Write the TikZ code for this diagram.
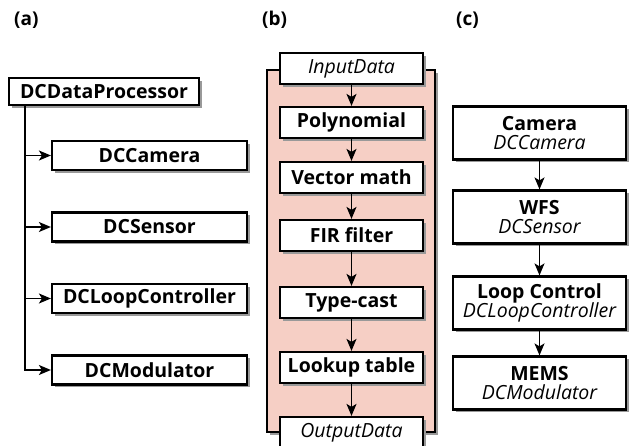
\documentclass[tikz,border=0pt]{standalone}
\usepackage{fontspec}
\setmainfont{Open Sans}
\usepackage{xcolor}
\usepackage{tikz}
\usetikzlibrary{shapes.geometric, arrows.meta, positioning, calc, shadows}
\definecolor{pipepink}{RGB}{246,207,197}
\tikzstyle{block} = [rectangle, draw=black, line width=2.2pt, fill=white, inner sep=0pt, text centered, font=\bfseries\fontsize{19.5}{21}\selectfont, drop shadow={shadow xshift=3pt, shadow yshift=-3pt, fill=black!40, opacity=1}]
\tikzstyle{member} = [block, minimum width=195pt, minimum height=29pt]
\tikzstyle{stage} = [block, minimum width=143pt, minimum height=31pt]
\tikzstyle{device} = [block, minimum width=173pt, minimum height=53pt, align=center]
\tikzstyle{pipe} = [rectangle, draw=black, line width=2.2pt, fill=pipepink, minimum width=168pt, minimum height=362pt, drop shadow={shadow xshift=3pt, shadow yshift=-3pt, fill=black!40, opacity=1}]
\tikzstyle{tag} = [anchor=west, inner sep=0pt, font=\bfseries\fontsize{19}{21}\selectfont]
\tikzstyle{arrow} = [line width=1.4pt, -{Stealth[length=12pt, width=10pt, inset=3pt]}]

\begin{document}
\begin{tikzpicture}[x=1pt, y=1pt, node distance=71.5pt]
\useasboundingbox (0,0) rectangle (630,-446);

% Panel tags
\node (taga) [tag] at (14,-20) {(a)};
\node (tagb) [tag] at (262,-20) {(b)};
\node (tagc) [tag] at (456,-20) {(c)};

% (a) class tree
\node (proc) [block, minimum width=190pt, minimum height=27pt] at (104,-91.5) {DCDataProcessor};
\node (cam) [member] at (149.5,-155.5) {DCCamera};
\node (sens) [member, below of=cam] {DCSensor};
\node (loop) [member, below of=sens] {DCLoopController};
\node (mod) [member, below of=loop] {DCModulator};
\coordinate (trunk) at (25,-105);

\draw [arrow] (trunk) |- (cam);
\draw [arrow] (trunk) |- (sens);
\draw [arrow] (trunk) |- (loop);
\draw [arrow] (trunk) |- (mod);

% (b) processing pipeline
\node (pipe) [pipe] at (351,-251) {};
\node (input) [stage] at (351.5,-68.5) {\mdseries\itshape InputData};
\node (poly) [stage, below of=input, yshift=17.5pt] {Polynomial};
\node (vec) [stage, below of=poly, yshift=16.5pt] {Vector math};
\node (fir) [stage, below of=vec, yshift=13.5pt] {FIR filter};
\node (cast) [stage, below of=fir, yshift=4.5pt] {Type-cast};
\node (lut) [stage, below of=cast, yshift=6.5pt] {Lookup table};
\node (output) [stage, below of=lut, yshift=6.5pt] {\mdseries\itshape OutputData};

\draw [arrow] (input) -- (poly);
\draw [arrow] (poly) -- (vec);
\draw [arrow] (vec) -- (fir);
\draw [arrow] (fir) -- (cast);
\draw [arrow] (cast) -- (lut);
\draw [arrow] (lut) -- (output);

% (c) hardware chain
\node (camera) [device] at (539.5,-133) {Camera\\[-2pt]{\mdseries\itshape DCCamera}};
\node (wfs) [device, below of=camera, yshift=-12.5pt] {WFS\\[-2pt]{\mdseries\itshape DCSensor}};
\node (ctrl) [device, below of=wfs, yshift=-14.5pt] {Loop Control\\[-2pt]{\mdseries\itshape DCLoopController}};
\node (mems) [device, below of=ctrl, yshift=-8.5pt] {MEMS\\[-2pt]{\mdseries\itshape DCModulator}};

\draw [arrow] (camera) -- (wfs);
\draw [arrow] (wfs) -- (ctrl);
\draw [arrow] (ctrl) -- (mems);

\end{tikzpicture}
\end{document}
